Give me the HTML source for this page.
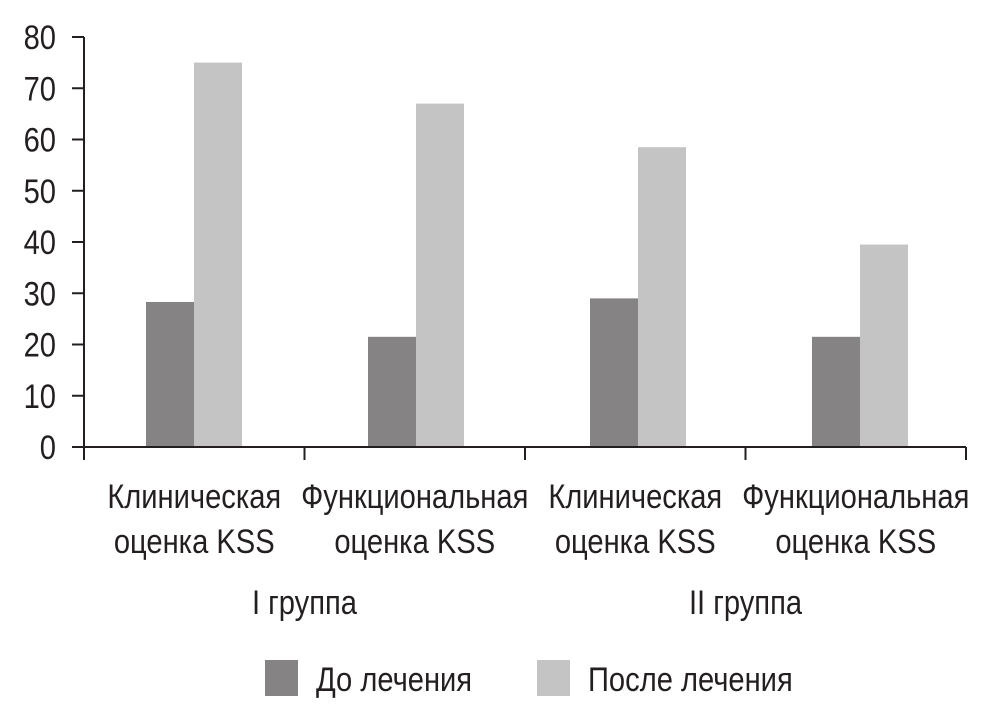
<!DOCTYPE html>
<html><head><meta charset="utf-8"><style>
html,body{margin:0;padding:0;background:#fff;}
svg text{font-family:"Liberation Sans Narrow","Liberation Sans",sans-serif;fill:#231f20;}
</style></head><body>
<svg id="chart" width="992" height="714" viewBox="0 0 992 714" xmlns="http://www.w3.org/2000/svg">
<g id="bars"></g>
<g id="axes"></g>
<g id="labels"></g>
<g>
<rect x="265" y="660" width="33" height="36" fill="#858383"/>
<text transform="translate(316,691) scale(0.94,1.1)" font-size="31">До лечения</text>
<rect x="537" y="660" width="33" height="36" fill="#c4c4c4"/>
<text transform="translate(588,691) scale(0.94,1.1)" font-size="31">После лечения</text>
</g>
</svg>
<script>
const categoriesLine1 = ["Клиническая","Функциональная","Клиническая","Функциональная"];
const categoriesLine2 = ["оценка KSS","оценка KSS","оценка KSS","оценка KSS"];
const groups = ["I группа","II группа"];
const beforeValues = [28.3, 21.5, 29, 21.5];
const afterValues = [75, 67, 58.5, 39.5];
const yTicks = [0,10,20,30,40,50,60,70,80];

const NS="http://www.w3.org/2000/svg";
const x0=84, x1=966, y0=447, yTop=37, yMax=80;
const catW=(x1-x0)/categoriesLine1.length;
const barStep=222;
const yScale=v=>y0-(v/yMax)*(y0-yTop);
const xCat=i=>x0+i*catW;
const xBar=i=>146+i*barStep;
function mk(tag,attrs,parent){const e=document.createElementNS(NS,tag);for(const k in attrs)e.setAttribute(k,attrs[k]);parent.appendChild(e);return e;}
function txt(x,y,anchor,s,parent){return mk('text',{transform:`translate(${x},${y}) scale(0.94,1.1)`,'font-size':31,'text-anchor':anchor},parent);}
const bars=document.getElementById('bars'),axes=document.getElementById('axes'),labels=document.getElementById('labels');
const bw=48;
beforeValues.forEach((v,i)=>{
  const r=mk('rect',{x:xBar(i),y:yScale(v),width:bw,height:y0-yScale(v),fill:'#858383'},bars);
  
  
});
afterValues.forEach((v,i)=>{
  const r=mk('rect',{x:xBar(i)+bw,y:yScale(v),width:bw,height:y0-yScale(v),fill:'#c4c4c4'},bars);
  
  
});
const ya=mk('line',{x1:x0,y1:yTop,x2:x0,y2:y0,stroke:'#231f20','stroke-width':2},axes);


const xa=mk('line',{x1:72,y1:y0,x2:x1,y2:y0,stroke:'#231f20','stroke-width':2},axes);


yTicks.forEach(t=>{
  const y=yScale(t);
  const l=mk('line',{x1:72,y1:y,x2:x0,y2:y,stroke:'#231f20','stroke-width':2},axes);
  
  
  const tx=txt(56,y+12,'end',t,labels);
  tx.textContent=t;
  
  
});
for(let i=0;i<=categoriesLine1.length;i++){
  const l=mk('line',{x1:xCat(i),y1:y0,x2:xCat(i),y2:y0+13,stroke:'#231f20','stroke-width':2},axes);
  
  
}
categoriesLine1.forEach((c,i)=>{
  const cx=xCat(i)+catW/2;
  const a=txt(cx,508,'middle',c,labels);
  a.textContent=c;
  
  
  const b=txt(cx,553,'middle',categoriesLine2[i],labels);
  b.textContent=categoriesLine2[i];
  
  
});
groups.forEach((g,i)=>{
  const cx=x0+(i*2+1)*catW;
  const t=txt(cx,614,'middle',g,labels);
  t.textContent=g;
  
  
});
</script>
</body></html>
